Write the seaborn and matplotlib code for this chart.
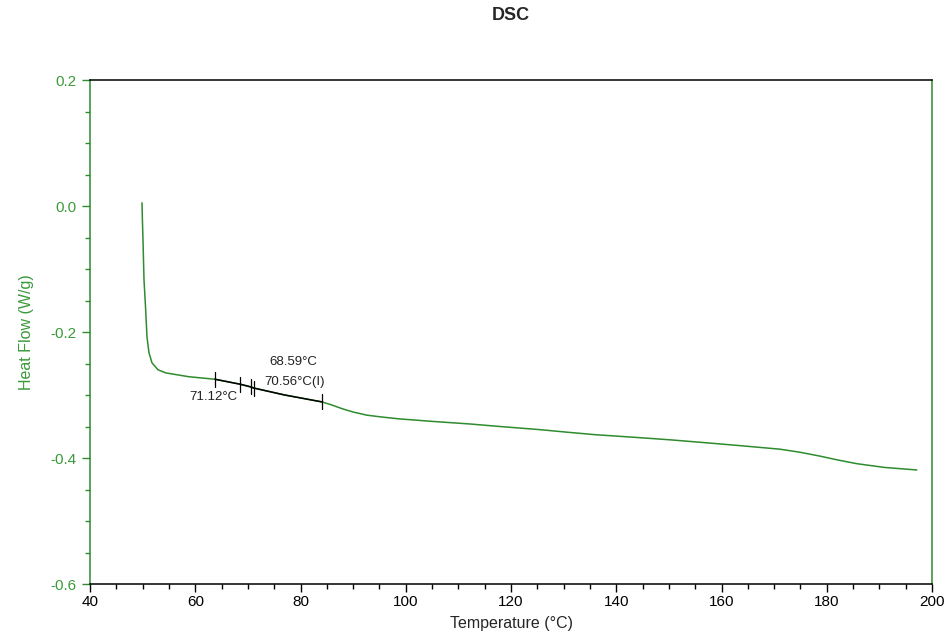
import numpy as np
import pandas as pd
import seaborn as sb
import matplotlib.pyplot as plt
from matplotlib.ticker import MultipleLocator

# DSC curve, values
temp = [49.88, 49.95, 50.07, 50.26, 50.55, 50.83, 51.21, 51.78, 52.92, 54.44,
        58.8, 63.75, 68.6, 71.2, 77.0, 84.1, 86.0, 88.0, 90.0, 92.6, 95.5, 98.9,
        105.2, 112.2, 117.9, 125.5, 130.6, 136.0, 143.2, 150.0, 155.9,
        163.0, 171.1, 175.0, 178.7, 182.0, 185.7, 191.0, 197.1]
heat_flow = [0.005, -0.020, -0.054, -0.117, -0.160, -0.208, -0.233, -0.249, -0.260, -0.265,
             -0.271, -0.275, -0.283, -0.289, -0.300, -0.311, -0.316, -0.322, -0.327, -0.332, -0.335, -0.338,
             -0.342, -0.346, -0.350, -0.355, -0.359, -0.363, -0.367, -0.371, -0.375,
             -0.380, -0.386, -0.391, -0.397, -0.403, -0.409, -0.415, -0.419]

# analysis baseline (black) and its markers
base_temp = [63.75, 68.6, 70.56, 71.12, 77.0, 84.1]
base_hf = [-0.275, -0.283, -0.287, -0.289, -0.300, -0.311]
mark_temp = [63.75, 68.59, 70.56, 71.12, 84.1]
mark_hf = [-0.275, -0.283, -0.287, -0.289, -0.311]
mark_text = ["68.59°C", "70.56°C(I)", "71.12°C"]
text_x = [78.6, 78.95, 63.4]
text_y = [-0.2476, -0.279, -0.303]

green = "#2e8b2e"
label_green = "#3a9a3a"

sb.set_style("white")
plt.rcParams['font.family'] = ['Liberation Sans', 'DejaVu Sans']

fig = plt.figure(figsize=(9.47, 6.33), dpi=100)
ax = fig.add_axes([90 / 947, 1 - 584 / 633, 842 / 947, 504 / 633])

dsc = pd.DataFrame({"temp": temp, "hf": heat_flow})
sb.lineplot(data=dsc, x="temp", y="hf", color=green, linewidth=1.1, ax=ax, sort=False)
base = pd.DataFrame({"temp": base_temp, "hf": base_hf})
sb.lineplot(data=base, x="temp", y="hf", color="black", linewidth=1.1, ax=ax, sort=False)

# vertical marker ticks on the baseline
for t, h in zip(mark_temp, mark_hf):
    ax.plot([t, t], [h - 0.012, h + 0.012], color="black", linewidth=0.9)

for t, x, y in zip(mark_text, text_x, text_y):
    ax.text(x, y, t, ha="center", va="center", fontsize=9.5, color="#222222")

ax.set_xlim(40, 200)
ax.set_ylim(-0.6, 0.2)
ax.xaxis.set_major_locator(MultipleLocator(20))
ax.xaxis.set_minor_locator(MultipleLocator(5))
ax.yaxis.set_major_locator(MultipleLocator(0.2))
ax.yaxis.set_minor_locator(MultipleLocator(0.05))
ax.yaxis.set_major_formatter(plt.FuncFormatter(lambda v, p: f"{v:.1f}"))

ax.tick_params(axis="x", which="major", direction="out", length=6, width=1, colors="black",
               labelsize=11, bottom=True, pad=2)
ax.tick_params(axis="x", which="minor", direction="out", length=3.5, width=1, colors="black", bottom=True)
ax.tick_params(axis="y", which="major", direction="out", length=6, width=1, colors=green,
               labelsize=11, left=True)
ax.tick_params(axis="y", which="minor", direction="out", length=3.5, width=1, colors=green, left=True)
for lbl in ax.get_yticklabels():
    lbl.set_color(label_green)

ax.spines["left"].set_color(green)
ax.spines["right"].set_color(green)
ax.spines["top"].set_color("black")
ax.spines["bottom"].set_color("black")
for s in ax.spines.values():
    s.set_linewidth(1.1)

ax.set_xlabel("Temperature (°C)", fontsize=11.5, labelpad=5)
ax.set_ylabel("Heat Flow (W/g)", fontsize=11.5, color=label_green, labelpad=12)
fig.suptitle("DSC", fontsize=13, fontweight="bold", x=511 / 947, y=1 - 16 / 633, va="center")

fig.savefig("out.png", dpi=100)
